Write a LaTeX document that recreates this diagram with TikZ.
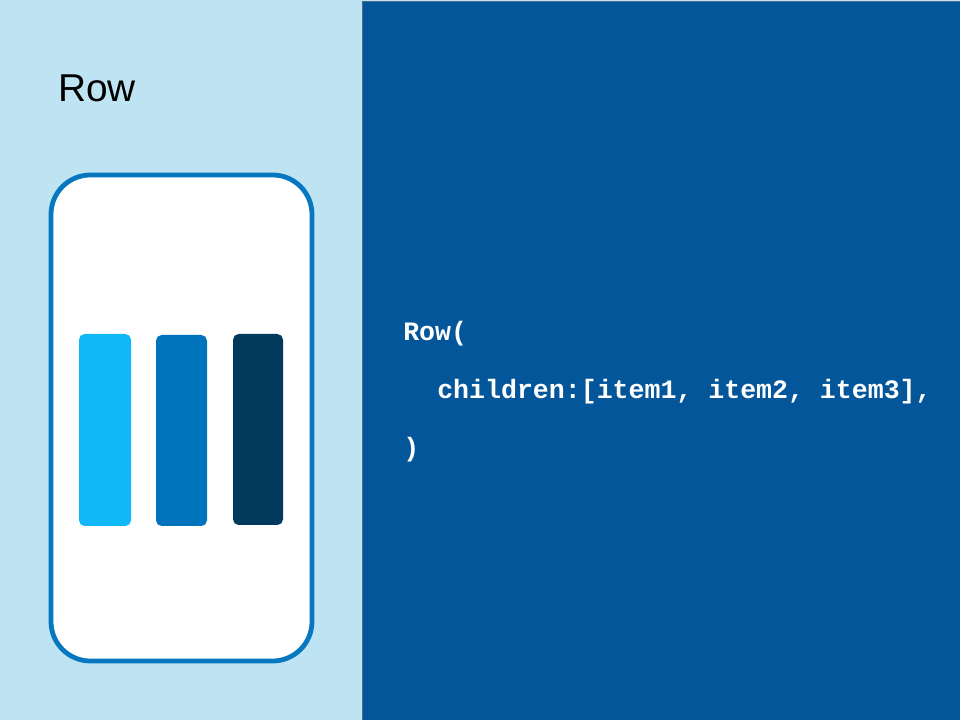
\documentclass[tikz,border=0pt]{standalone}
\usepackage{fontspec}
\setmainfont{Liberation Sans}
\newfontfamily\codefont{Liberation Mono}
\definecolor{paleblue}{HTML}{BEE3F2}
\definecolor{panelblue}{HTML}{04569A}
\definecolor{phoneblue}{HTML}{0777C0}
\definecolor{barone}{HTML}{10B8F8}
\definecolor{bartwo}{HTML}{0073BD}
\definecolor{barthree}{HTML}{023A5E}
\tikzset{
  bar/.style={rounded corners=4pt},
  codeline/.style={anchor=base west, inner sep=0pt, text=white, font=\codefont\bfseries\fontsize{18.9}{21}\selectfont}
}
\begin{document}
\begin{tikzpicture}[x=0.025cm, y=-0.025cm]
\useasboundingbox (0,0) rectangle (960,720);
\fill[paleblue] (0,0) rectangle (960,720);
\filldraw[fill=panelblue, draw=gray!60!panelblue, line width=0.6pt] (362,1) rectangle (961,721);
% title
\node[anchor=base west, inner sep=0pt, font=\fontsize{27.6}{31}\selectfont] (title) at (58,102) {Row};
% phone
\filldraw[fill=white, draw=phoneblue, line width=3.4pt, rounded corners=28pt] (51,175) rectangle (312,661);
\fill[bar, barone] (79,334) rectangle (131,526);
\fill[bar, bartwo] (156,335) rectangle (207,526);
\fill[bar, barthree] (233,334) rectangle (283,525);
% code
\node[codeline] (rowopen) at (403,341) {Row(};
\node[codeline] (children) at (437,399) {children:[item1, item2, item3],};
\node[codeline] (rowclose) at (403,457) {)};
\end{tikzpicture}
\end{document}
